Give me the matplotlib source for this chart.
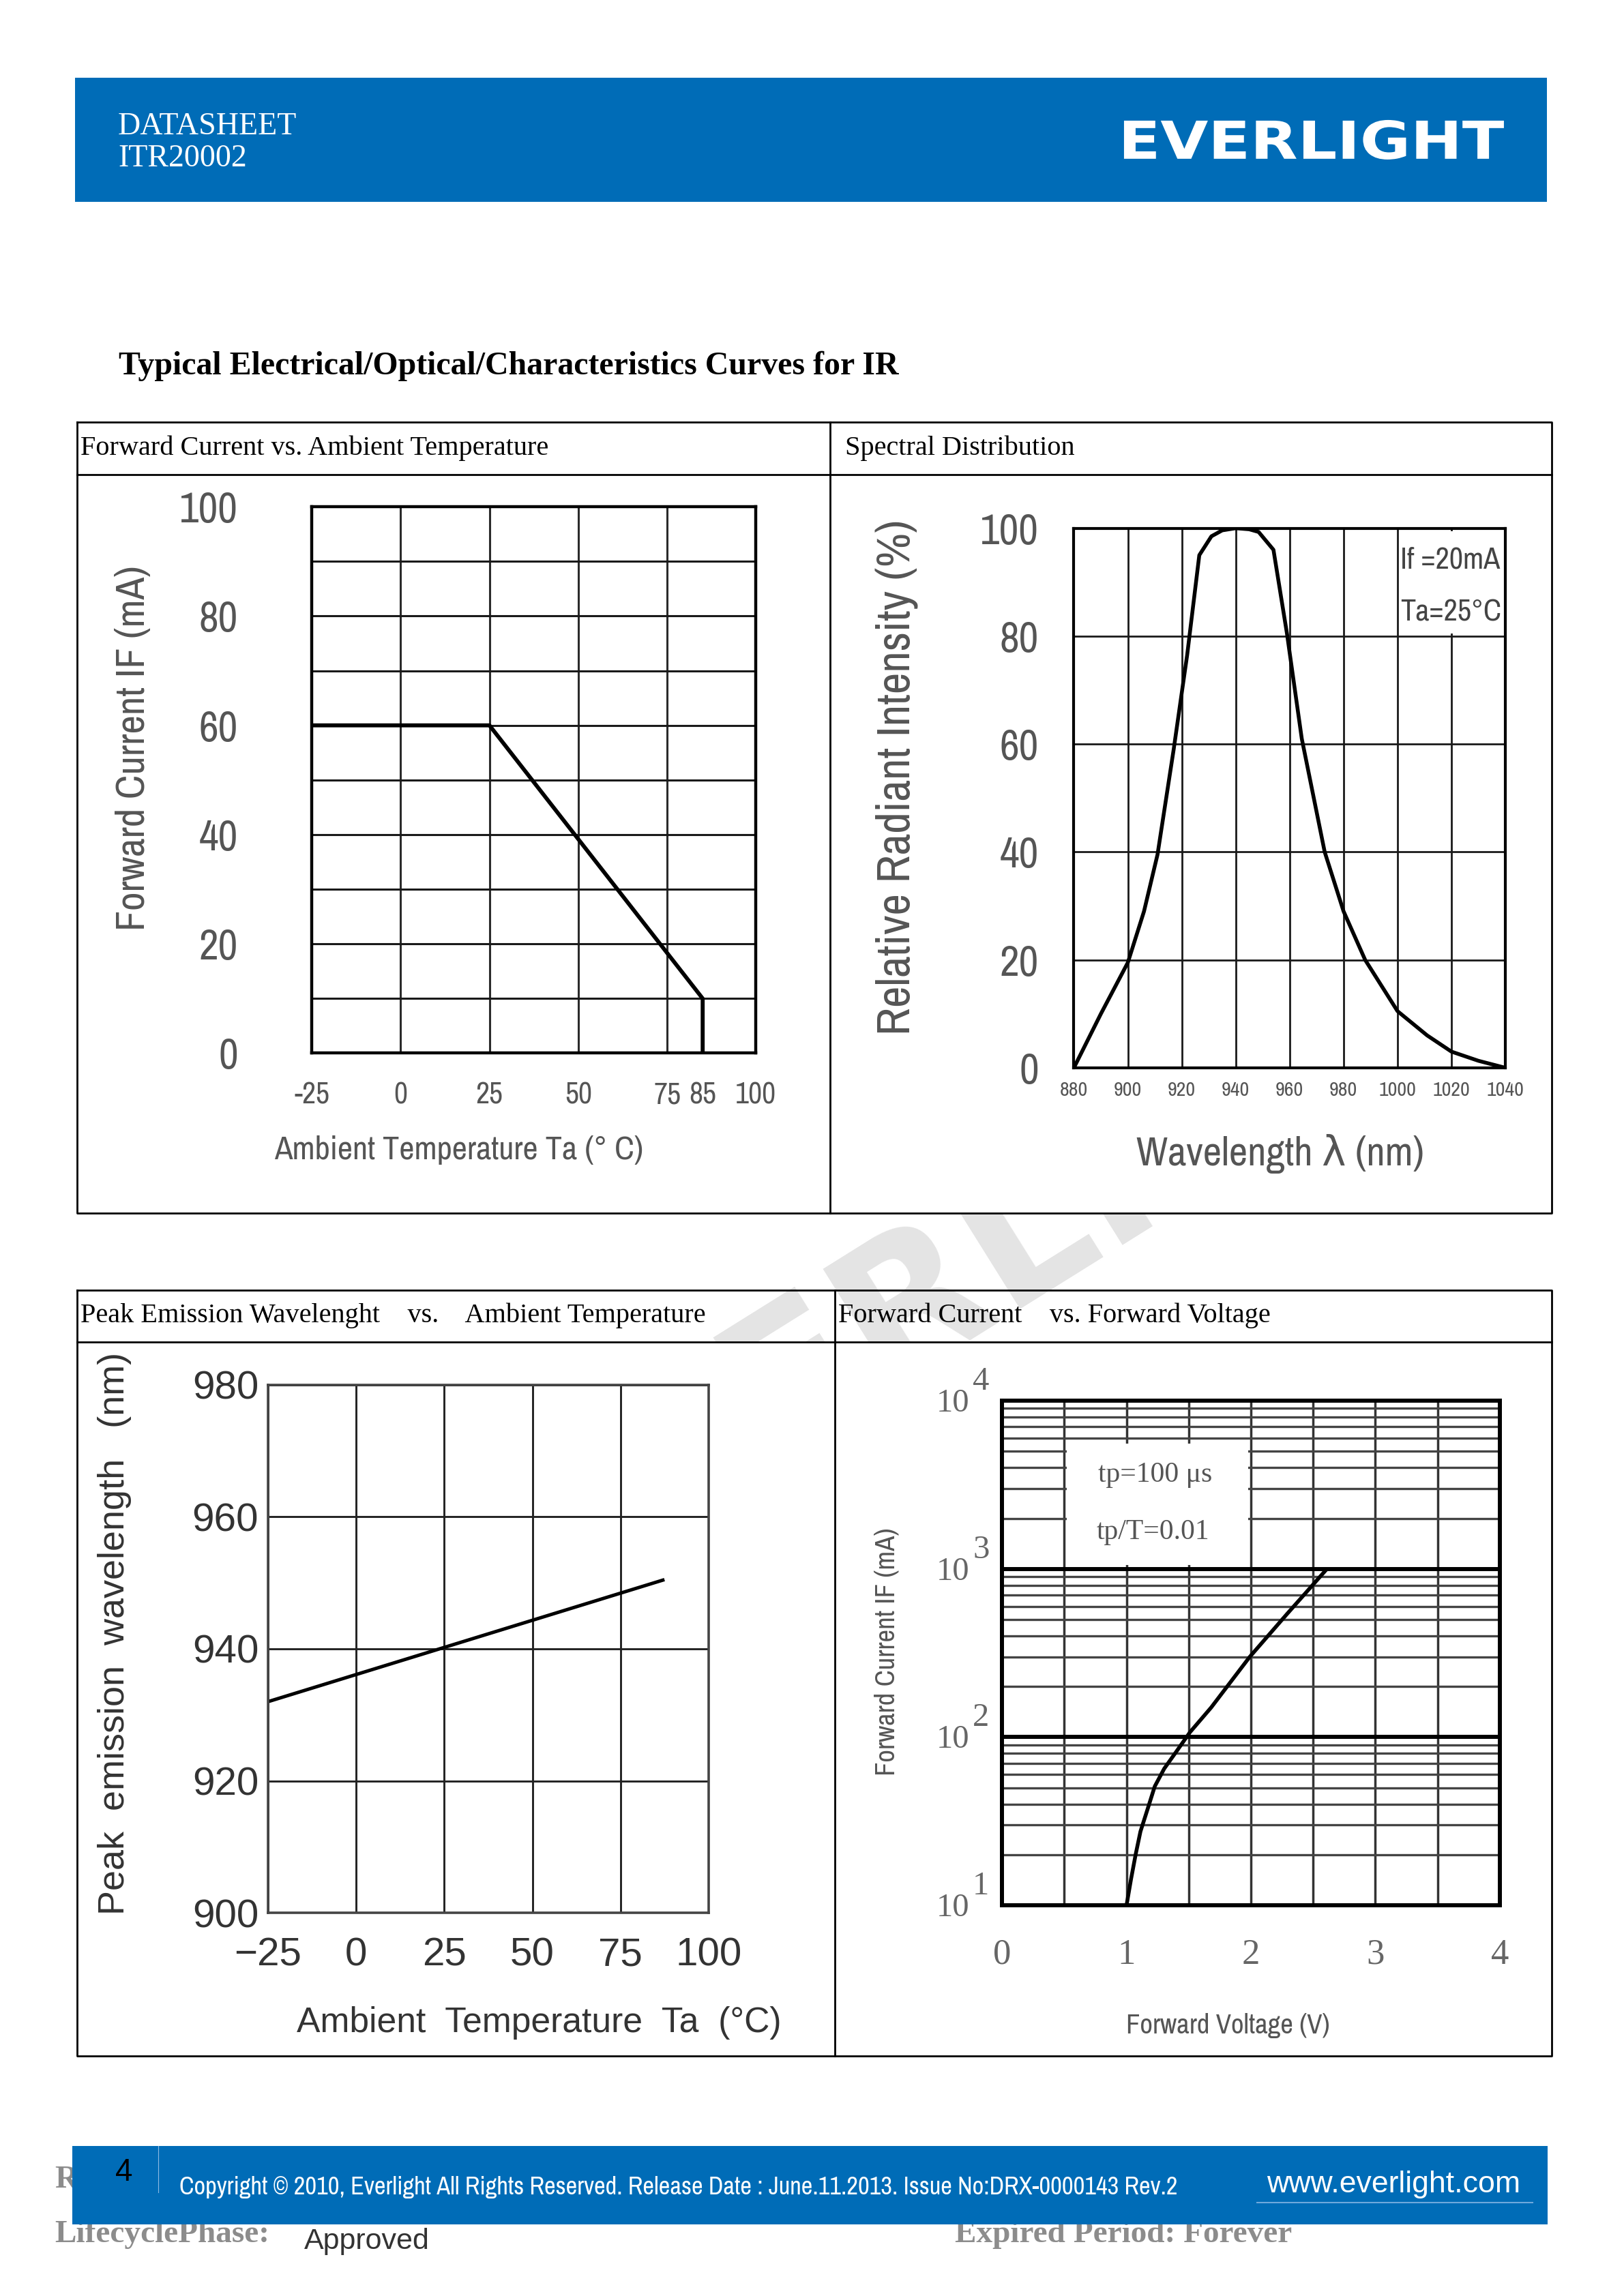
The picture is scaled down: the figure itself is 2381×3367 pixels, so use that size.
import matplotlib
matplotlib.use('Agg')
import matplotlib.pyplot as plt
from matplotlib import font_manager
from matplotlib.font_manager import FontProperties
from matplotlib.patches import Rectangle, PathPatch
from matplotlib.textpath import TextPath
from matplotlib.transforms import Affine2D, offset_copy
from matplotlib.ticker import NullFormatter

# ---- values ----
# Forward Current vs. Ambient Temperature (derating)
derate_ta = [-25, 25, 85, 85]
derate_if = [60, 60, 10, 0]
c1_xticks = [-25, 0, 25, 50, 75, 85, 100]
c1_xlabels = ['-25', '0', '25', '50', '75', '85', '100']
c1_yticks = [0, 20, 40, 60, 80, 100]
c1_xgrid = [0, 25, 50, 75]
c1_ygrid = [10, 20, 30, 40, 50, 60, 70, 80, 90]

# Spectral Distribution
spec_wl = [880, 890, 900, 906, 911, 917, 922, 926.5, 931, 935, 940, 945, 948.5,
           954, 959, 964.5, 973, 980, 988, 1000, 1011, 1020, 1030, 1040]
spec_rel = [0, 10, 19.5, 29, 39.5, 59, 76.5, 95, 98.5, 99.6, 100, 99.8, 99.3,
            96, 80.5, 61, 40, 29, 20, 10.5, 6, 3, 1.3, 0]
c2_xticks = [880, 900, 920, 940, 960, 980, 1000, 1020, 1040]
c2_yticks = [0, 20, 40, 60, 80, 100]

# Peak Emission Wavelength vs. Ambient Temperature
peak_ta = [-25, 87]
peak_wl = [932, 950.4]
c3_xticks = [-25, 0, 25, 50, 75, 100]
c3_xlabels = ['\u221225', '0', '25', '50', '75', '100']
c3_yticks = [900, 920, 940, 960, 980]

# Forward Current vs. Forward Voltage
fv_volt = [1.0, 1.036, 1.074, 1.112, 1.17, 1.227, 1.303, 1.40, 1.51, 1.68, 1.99, 2.29, 2.60]
fv_ma = [10, 14.3, 20.2, 27.5, 37.5, 51, 65, 82, 107, 150, 300, 540, 980]
c4_xticks = [0, 1, 2, 3, 4]
c4_xgrid = [0.5, 1, 1.5, 2, 2.5, 3, 3.5]
c4_decades = [10, 100, 1000, 10000]
c4_exps = ['1', '2', '3', '4']
c4_major = [100, 1000]
c4_minor = [k * d for d in (10, 100, 1000) for k in range(2, 10)]

# ---- page geometry: layout units, 1 unit = 2.148 px of the 2381x3367 page ----
W_PX, H_PX, DPI = 2381, 3367, 100
U = 2.148
PW, PH = W_PX / U, H_PX / U
BLUE = '#006cb7'
GRAY_TXT = '#555555'

installed = {f.name for f in font_manager.fontManager.ttflist}


def pick(*names):
    for n in names:
        if n in installed:
            return n
    return 'DejaVu Sans'


SERIF = pick('Liberation Serif', 'DejaVu Serif')
SANS = pick('Liberation Sans', 'DejaVu Sans')
NARROW = pick('Liberation Sans Narrow', 'Archivo Narrow', 'Roboto Condensed',
              'PT Sans Narrow', 'Asap Condensed', 'Liberation Sans')
NARROW_GREEK = [NARROW, 'DejaVu Sans']


def size_for(s, family, w_px, h_px):
    # point size that gives roughly the ink width/height seen on the reference
    ext = TextPath((0, 0), s, size=1, prop=FontProperties(family=family)).get_extents()
    by_w, by_h = w_px / ext.width, h_px / ext.height
    return min((by_w * by_h) ** 0.5, 1.1 * by_w) * 72 / DPI


fig = plt.figure(figsize=(W_PX / DPI, H_PX / DPI), dpi=DPI)
page = fig.add_axes([0, 0, 1, 1])
page.set_xlim(0, PW)
page.set_ylim(PH, 0)
page.axis('off')


def box(x0, y0, x1, y1, **kw):
    page.add_patch(Rectangle((x0, y0), x1 - x0, y1 - y0, **kw))


def place(x0, y0, x1, y1):
    return fig.add_axes([x0 / PW, 1 - y1 / PH, (x1 - x0) / PW, (y1 - y0) / PH])


def fit_len(txt, length_u):
    # scale the font so the text spans the length measured on the reference
    bb = txt.get_window_extent(fig.canvas.get_renderer())
    cur = (bb.height if txt.get_rotation() == 90 else bb.width) / U
    txt.set_fontsize(txt.get_fontsize() * length_u / cur)


def frame(ax, lw, color):
    for s in ax.spines.values():
        s.set_linewidth(lw)
        s.set_color(color)
        s.set_zorder(5)
    ax.tick_params(which='both', length=0)


# header bar
box(51.2, 53.1, 1055.9, 137.8, fc=BLUE, ec='none', zorder=5)
page.text(80.5, 91.7, 'DATASHEET', family=SERIF, size=33, color='white',
          va='baseline', zorder=6)
page.text(80.5, 113.6, 'ITR20002', family=SERIF, size=33, color='white',
          va='baseline', zorder=6)
logo = TextPath((0, 0), 'EVERLIGHT', size=1,
                prop=FontProperties(family='DejaVu Sans', weight='bold'))
bb = logo.get_extents()
lx0, ly0, lx1, ly1 = 767.2, 81.9, 1026.5, 108.9
tr = (Affine2D().translate(-bb.x0, -bb.y0)
      .scale((lx1 - lx0) / bb.width, -(ly1 - ly0) / bb.height)
      .translate(lx0, ly1))
page.add_patch(PathPatch(tr.transform_path(logo), fc='white', ec='none', zorder=6))

title = page.text(81, 250, 'Typical Electrical/Optical/Characteristics Curves for IR',
                  family=SERIF, weight='bold', size=34, va='center', zorder=4)
fit_len(title, 533)

# faint watermark behind the tables
page.text(690, 848, 'EVERLIGHT', family='DejaVu Sans', weight='bold', size=200,
          color='#e4e4e4', rotation=32, ha='center', va='center',
          rotation_mode='anchor', zorder=1)


def table(x0, y0, yh, y1, xd, x1):
    box(x0, yh, xd, y1, fc='white', ec='none', zorder=2)
    box(xd, yh, x1, y1, fc='white', ec='none', zorder=2)
    kw = dict(color='black', lw=2, zorder=4, solid_capstyle='projecting')
    page.plot([x0, x1, x1, x0, x0], [y0, y0, y1, y1, y0], **kw)
    page.plot([x0, x1], [yh, yh], **kw)
    page.plot([xd, xd], [y0, y1], **kw)


table(52.6, 288, 324, 828, 566.4, 1059)
table(52.6, 880.6, 916, 1403.4, 570, 1059)
hdr = dict(family=SERIF, size=29, va='center', zorder=4)
page.text(55, 306, 'Forward Current vs. Ambient Temperature', **hdr)
page.text(577, 306, 'Spectral Distribution', **hdr)
page.text(55, 898, 'Peak Emission Wavelenght    vs.    Ambient Temperature', **hdr)
page.text(572, 898, 'Forward Current    vs. Forward Voltage', **hdr)

# footer
box(49.3, 1465, 1056.3, 1518.6, fc=BLUE, ec='none', zorder=5)
page.plot([108, 108], [1465, 1496.7], color='#8dbbe3', lw=0.8, zorder=6)
page.text(84.7, 1483.2, '4', family=SANS, size=33, color='black',
          ha='center', va='center', zorder=6)
cp = page.text(122.4, 1498, 'Copyright \u00a9 2010, Everlight All Rights Reserved. '
               'Release Date : June.11.2013. Issue No:DRX-0000143 Rev.2',
               family=NARROW, size=22, color='white', va='baseline', zorder=6)
fit_len(cp, 681.6)
www = page.text(864.5, 1496.7, 'www.everlight.com', family=SANS, size=31,
                color='white', va='baseline', zorder=6)
fit_len(www, 172.7)
page.plot([858, 1046], [1503.7, 1503.7], color='#6fa8dc', lw=1.5, zorder=6)
foot = dict(family=SERIF, weight='bold', size=34, color='#8c8c8c',
            va='baseline', zorder=3)
page.text(37.2, 1493.5, 'R', **foot)
page.text(37.2, 1530.7, 'LifecyclePhase:', **foot)
page.text(651.8, 1530.7, 'Expired Period: Forever', **foot)
page.text(207.6, 1535.4, 'Approved', family=SANS, size=31, color='#333333',
          va='baseline', zorder=3)


def axis_title(x, y, s, length_u, family, color, vertical=False):
    t = page.text(x, y, s, rotation=90 if vertical else 0, ha='center', va='center',
                  family=family, size=30, color=color, zorder=5)
    fit_len(t, length_u)


def tick_font(ax, family, xsize, ysize, xpad, ypad, color):
    ax.tick_params(axis='x', pad=xpad, labelsize=xsize, labelcolor=color)
    ax.tick_params(axis='y', pad=ypad, labelsize=ysize, labelcolor=color)
    for lab in ax.get_xticklabels() + ax.get_yticklabels():
        lab.set_family(family)


big_tick = size_for('100', NARROW, 73, 50)

# ---- chart 1: forward current vs ambient temperature ----
ax1 = place(212.8, 346, 516, 719)
ax1.set_xlim(-25, 100)
ax1.set_ylim(0, 100)
for x in c1_xgrid:
    ax1.axvline(x, color='#2b2b2b', lw=2.2, zorder=1)
for y in c1_ygrid:
    ax1.axhline(y, color='#1a1a1a', lw=2.2, zorder=1)
ax1.plot(derate_ta, derate_if, color='black', lw=4.2, zorder=3)
ax1.set_xticks(c1_xticks, c1_xlabels)
ax1.set_yticks(c1_yticks)
tick_font(ax1, NARROW, size_for('100', NARROW, 51, 38), big_tick, 30, 78, GRAY_TXT)
frame(ax1, 3.2, 'black')
axis_title(91, 511, 'Forward Current IF (mA)', 249, NARROW, GRAY_TXT, vertical=True)
axis_title(313, 785, 'Ambient Temperature Ta (\u00b0 C)', 252, NARROW, GRAY_TXT)

# ---- chart 2: spectral distribution ----
ax2 = place(733, 360.6, 1027.5, 729)
ax2.set_xlim(880, 1040)
ax2.set_ylim(0, 100)
ax2.set_xticks(c2_xticks)
ax2.set_yticks(c2_yticks)
ax2.grid(True, color='#1a1a1a', lw=2.0)
ax2.set_axisbelow(True)
ax2.add_patch(Rectangle((1000.6, 80.5), 39, 19, fc='white', ec='none', zorder=2))
ax2.plot(spec_wl, spec_rel, color='black', lw=4.0, zorder=3)
note = min(size_for('If =20mA', NARROW, 140, 42), size_for('Ta=25\u00b0C', NARROW, 132, 42))
ax2.text(1001, 92.6, 'If =20mA', family=NARROW, size=note, color='#444444',
         va='baseline', zorder=4)
ax2.text(1001, 82.8, 'Ta=25\u00b0C', family=NARROW, size=note, color='#444444',
         va='baseline', zorder=4)
tick_font(ax2, NARROW, size_for('880', NARROW, 35, 32), big_tick, 14, 37, GRAY_TXT)
frame(ax2, 3.0, 'black')
axis_title(612.6, 530.6, 'Relative Radiant Intensity (%)', 352, NARROW, GRAY_TXT,
           vertical=True)
axis_title(874, 787.7, 'Wavelength \u03bb (nm)', 196, NARROW_GREEK, GRAY_TXT)

# ---- chart 3: peak emission wavelength vs ambient temperature ----
ax3 = place(183, 945.3, 483.7, 1306)
ax3.set_xlim(-25, 100)
ax3.set_ylim(900, 980)
ax3.set_xticks(c3_xticks, c3_xlabels)
ax3.set_yticks(c3_yticks)
ax3.grid(True, color='#222222', lw=2.1)
ax3.set_axisbelow(True)
ax3.plot(peak_ta, peak_wl, color='black', lw=3.6, zorder=3)
tick_font(ax3, SANS, 42, 42, 25, 10, '#333333')
frame(ax3, 2.6, '#444444')
axis_title(78, 1115, 'Peak  emission  wavelength   (nm)', 384, SANS, '#333333',
           vertical=True)
axis_title(368, 1381, 'Ambient  Temperature  Ta  (\u00b0C)', 330, SANS, '#333333')

# ---- chart 4: forward current vs forward voltage ----
ax4 = place(684, 956.3, 1023.7, 1300.8)
ax4.set_yscale('log')
ax4.set_xlim(0, 4)
ax4.set_ylim(10, 10000)
for v in c4_xgrid:
    ax4.axvline(v, color='#333333', lw=2.5, zorder=1)
for m in c4_minor:
    ax4.axhline(m, color='#444444', lw=2.4, zorder=1)
for m in c4_major:
    ax4.axhline(m, color='black', lw=4.3, zorder=1)
ax4.add_patch(Rectangle((0.52, 1060), 1.46, 4500, fc='white', ec='none', zorder=2))
ax4.plot(fv_volt, fv_ma, color='black', lw=4.0, zorder=3)
ax4.text(1.23, 10 ** 3.56, 'tp=100 \u03bcs', family=SERIF, size=30, color='#555555',
         ha='center', va='center', zorder=4)
ax4.text(1.21, 10 ** 3.22, 'tp/T=0.01', family=SERIF, size=30, color='#555555',
         ha='center', va='center', zorder=4)
ax4.set_xticks(c4_xticks)
ax4.set_yticks(c4_decades)
ax4.set_yticklabels([])
ax4.yaxis.set_minor_formatter(NullFormatter())
ax4.tick_params(axis='x', pad=35, labelsize=38, labelcolor='#666666')
for lab in ax4.get_xticklabels():
    lab.set_family(SERIF)
frame(ax4, 4.3, 'black')
ytr = ax4.get_yaxis_transform()
for d, e in zip(c4_decades, c4_exps):
    ax4.text(0, d, '10', transform=offset_copy(ytr, fig=fig, x=-48, y=-4, units='dots'),
             ha='right', va='center', family=SERIF, size=35, color='#666666')
    ax4.text(0, d, e, transform=offset_copy(ytr, fig=fig, x=-43, y=6, units='dots'),
             ha='left', va='bottom', family=SERIF, size=35, color='#666666')
axis_title(605, 1127.6, 'Forward Current IF (mA)', 169, NARROW, GRAY_TXT, vertical=True)
axis_title(838, 1383, 'Forward Voltage (V)', 139, NARROW, GRAY_TXT)

fig.savefig('out.png', dpi=DPI)
